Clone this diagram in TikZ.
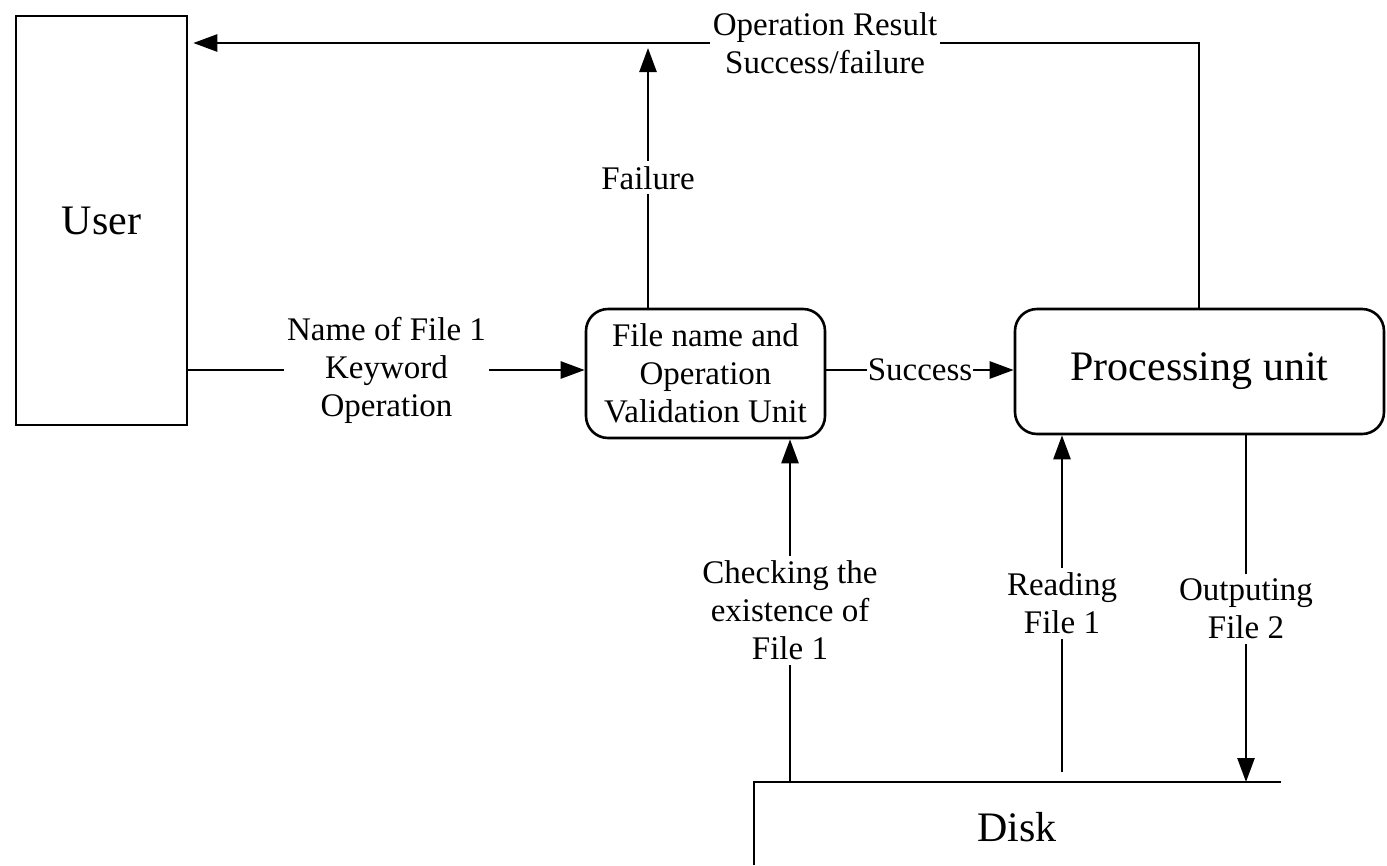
\documentclass[tikz,border=0pt]{standalone}
\usepackage{fontspec}
\setmainfont{Liberation Serif}
\usetikzlibrary{arrows.meta}
\begin{document}
\begin{tikzpicture}[x=1pt,y=-1pt,
  every node/.style={font=\fontsize{33}{38}\selectfont, align=center},
  ln/.style={line width=2.6pt, line join=miter},
  arr/.style={ln, -{Triangle[length=24pt,width=17pt]}},
  lbl/.style={fill=white, inner xsep=3pt, inner ysep=5pt},
  big/.style={font=\fontsize{42}{48}\selectfont},
  sqbox/.style={draw, line width=2.6pt, big},
  rbox/.style={draw, line width=2.6pt, rounded corners=22pt}]
\useasboundingbox (0,0) rectangle (1387,865);

\node[sqbox, minimum width=171pt, minimum height=409pt] (user) at (101.5,220.5) {User};
\node[rbox, minimum width=239pt, minimum height=129pt] (valid) at (705.5,373.5)
  {File name and\\Operation\\Validation Unit};
\node[rbox, big, minimum width=369pt, minimum height=125pt] (proc) at (1199.5,371.5) {Processing unit};
\node[big] (disk) at (1017,827) {Disk};
\coordinate (dl) at (754,865);
\coordinate (dtl) at (754,782);
\coordinate (dtr) at (1281,782);
\draw[ln] (dl) -- (dtl) -- (dtr);

\coordinate (d1) at (790,782);
\coordinate (d2) at (1062,772);
\coordinate (d3) at (1246,782);
\coordinate (top) at (1199,43);

% user -> validation
\draw[arr] (user.east |- 0,370) -- node[lbl] {Name of File 1\\Keyword\\Operation} (valid.west |- 0,370);
% validation -> processing
\draw[arr] (valid.east |- 0,370) -- node[fill=white, inner xsep=1pt, inner ysep=2pt] {Success} (proc.west |- 0,370);
% failure
\draw[arr] (valid.north -| 648,0) -- node[lbl] {Failure} (648,48);
% result
\draw[arr, shorten >=5pt] (proc.north -| top) -- (top) -- node[lbl, pos=0.37, inner ysep=2pt] {Operation Result\\Success/failure} (user.east |- top);
% checking
\draw[arr] (d1) -- node[lbl] {Checking the\\existence of\\File 1} (valid.south -| d1);
% reading
\draw[arr] (d2) -- node[lbl] {Reading\\File 1} (proc.south -| d2);
% outputting
\draw[arr] (proc.south -| d3) -- node[lbl] {Outputing\\File 2} (d3);
\end{tikzpicture}
\end{document}
